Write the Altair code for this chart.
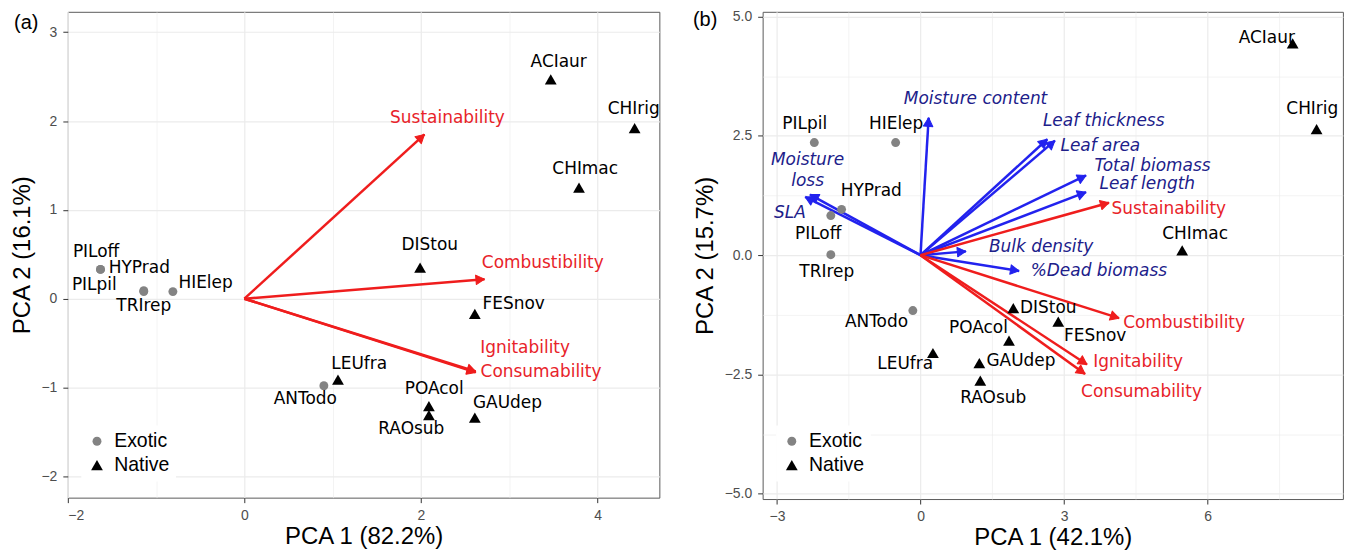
import math
import altair as alt
import pandas as pd

# ---------------- Panel (a) data ----------------
a_species = ["ACIaur", "CHIrig", "CHImac", "DIStou", "FESnov", "LEUfra", "ANTodo", "POAcol",
             "RAOsub", "GAUdep", "PILoff", "HYPrad", "PILpil", "TRIrep", "HIElep"]
a_status = ["Native", "Native", "Native", "Native", "Native", "Native", "Exotic", "Native",
            "Native", "Native", "Exotic", "Exotic", "Exotic", "Exotic", "Exotic"]
a_x = [3.47, 4.42, 3.79, 1.99, 2.61, 1.06, 0.90, 2.09, 2.09, 2.61, -1.63, -1.63, -1.14, -1.14, -0.81]
a_y = [2.47, 1.92, 1.25, 0.35, -0.17, -0.91, -0.98, -1.21, -1.31, -1.34, 0.33, 0.33, 0.09, 0.08, 0.08]
a_lab_x = [3.56, 4.41, 3.86, 2.10, 3.05, 1.30, 0.69, 2.15, 1.89, 2.98, -1.68, -1.19, -1.70, -1.14, -0.44]
a_lab_y = [2.66, 2.13, 1.46, 0.60, -0.06, -0.73, -1.13, -1.02, -1.47, -1.18, 0.53, 0.35, 0.15, -0.08, 0.18]

a_vars = ["Sustainability", "Combustibility", "Ignitability", "Consumability"]
a_vgroup = ["Flammability"] * 4
a_vx = [2.04, 2.72, 2.62, 2.62]
a_vy = [1.85, 0.22, -0.82, -0.83]
a_red_text = ["Sustainability", "Combustibility", "Ignitability", "Consumability"]
a_red_x = [2.30, 3.38, 3.18, 3.36]
a_red_y = [2.03, 0.40, -0.55, -0.82]
a_blue_text = []
a_blue_x = []
a_blue_y = []

# ---------------- Panel (b) data ----------------
b_species = ["PILpil", "HIElep", "HYPrad", "PILoff", "TRIrep", "ANTodo", "LEUfra", "DIStou",
             "POAcol", "GAUdep", "RAOsub", "FESnov", "CHImac", "ACIaur", "CHIrig"]
b_status = ["Exotic", "Exotic", "Exotic", "Exotic", "Exotic", "Exotic", "Native", "Native",
            "Native", "Native", "Native", "Native", "Native", "Native", "Native"]
b_x = [-2.22, -0.52, -1.65, -1.875, -1.875, -0.16, 0.26, 1.94, 1.85, 1.23, 1.25, 2.88, 5.47, 7.78, 8.28]
b_y = [2.36, 2.36, 0.96, 0.83, 0.01, -1.16, -2.05, -1.11, -1.79, -2.26, -2.63, -1.39, 0.10, 4.44, 2.64]
b_lab_x = [-2.42, -0.51, -1.03, -2.14, -1.96, -0.92, -0.32, 2.67, 1.21, 2.10, 1.52, 3.65, 5.74, 7.24, 8.19]
b_lab_y = [2.74, 2.74, 1.35, 0.45, -0.35, -1.40, -2.29, -1.11, -1.53, -2.21, -3.00, -1.70, 0.45, 4.56, 3.07]

b_vars = ["Moisture content", "Leaf thickness", "Leaf area", "Total biomass", "Leaf length",
          "Moisture loss", "SLA", "Bulk density", "%Dead biomass",
          "Sustainability", "Combustibility", "Ignitability", "Consumability"]
b_vgroup = ["Trait"] * 9 + ["Flammability"] * 4
b_vx = [0.17, 2.65, 2.81, 3.46, 3.46, -2.31, -2.41, 0.95, 2.06, 3.94, 4.15, 3.48, 3.44]
b_vy = [2.88, 2.43, 2.40, 1.67, 1.32, 1.27, 1.22, 0.08, -0.33, 1.10, -1.32, -2.29, -2.49]
b_blue_text = ["Moisture content", "Leaf thickness", "Leaf area", "Total biomass", "Leaf length",
               "Moisture", "loss", "SLA", "Bulk density", "%Dead biomass"]
b_blue_x = [1.15, 3.83, 3.76, 4.85, 4.74, -2.36, -2.36, -2.73, 2.52, 3.73]
b_blue_y = [3.28, 2.81, 2.29, 1.875, 1.49, 2.00, 1.56, 0.89, 0.17, -0.33]
b_red_text = ["Sustainability", "Combustibility", "Ignitability", "Consumability"]
b_red_x = [5.19, 5.51, 4.55, 4.62]
b_red_y = [0.97, -1.42, -2.24, -2.86]

# ---------------- styling ----------------
RED_LINE = "#ef1d1d"
RED_TEXT = "#e8232a"
BLUE_LINE = "#2222ee"
BLUE_TEXT = "#20208a"
GREY = "#838383"
LABEL_FONT = "DejaVu Sans"
AXIS_FONT = "Liberation Sans"
HEAD = "M0,0L-0.55,1L0.55,1Z"
LFS = 17


def cond(test, a, b):
    return {"condition": {"test": test, "value": a}, "value": b}


def panel(sp, st, px, py, lx, ly, vars_, vgroup, vx, vy,
          red_t, red_x, red_y, blue_t, blue_x, blue_y,
          xdom, ydom, W, H, xvals, yvals, xstep, ystep, xtitle, ytitle,
          yext, ytp, yfmt, tag, tagx, tagy):
    sx = alt.Scale(domain=xdom, nice=False, zero=False)
    sy = alt.Scale(domain=ydom, nice=False, zero=False)
    xminor = f"abs(datum.value % {xstep}) > 0.001"
    yminor = f"abs(datum.value % {ystep}) > 0.001"
    ax = alt.Axis(values=xvals, format="d",
                  labelExpr=f"{xminor} ? '' : datum.label",
                  tickOpacity=cond(xminor, 0, 1),
                  gridWidth=cond(xminor, 0.6, 1.2),
                  labelPadding=6, titlePadding=2)
    ay = alt.Axis(values=yvals, format=yfmt,
                  labelExpr=f"{yminor} ? '' : datum.label",
                  tickOpacity=cond(yminor, 0, 1),
                  gridWidth=cond(yminor, 0.6, 1.2),
                  labelPadding=6, titlePadding=ytp,
                  minExtent=yext, maxExtent=yext)

    def X(f):
        return alt.X(f, type="quantitative", scale=sx, axis=ax, title=xtitle)

    def Y(f):
        return alt.Y(f, type="quantitative", scale=sy, axis=ay, title=ytitle)

    kx = W / (xdom[1] - xdom[0])
    ky = H / (ydom[1] - ydom[0])
    arr = pd.DataFrame({"var": vars_, "group": vgroup, "vx": vx, "vy": vy})
    arr["ox"] = 0.0
    arr["oy"] = 0.0
    arr["ang"] = [(math.degrees(math.atan2(a * kx, b * ky)) + 360.0) % 360.0 for a, b in zip(vx, vy)]

    stroke_scale = alt.Scale(domain=["Flammability", "Trait"], range=[RED_LINE, BLUE_LINE])

    lines = alt.Chart(arr).mark_rule(strokeWidth=2.5).encode(
        x=X("ox"), y=Y("oy"), x2=alt.X2("vx"), y2=alt.Y2("vy"),
        stroke=alt.Stroke("group:N", scale=stroke_scale, legend=None),
    )
    heads = alt.Chart(arr).mark_point(shape=HEAD, filled=True, size=300, strokeWidth=1,
                                      opacity=1, strokeJoin="round").encode(
        x=X("vx"), y=Y("vy"),
        fill=alt.Fill("group:N", scale=stroke_scale, legend=None),
        stroke=alt.Stroke("group:N", scale=stroke_scale, legend=None),
        angle=alt.Angle("ang:Q", scale=None),
    )

    layers = [lines, heads]

    red_df = pd.DataFrame({"t": red_t, "x": red_x, "y": red_y})
    layers.append(alt.Chart(red_df).mark_text(font=LABEL_FONT, fontSize=LFS, color=RED_TEXT).encode(
        x=X("x"), y=Y("y"), text="t:N"))
    if blue_t:
        blue_df = pd.DataFrame({"t": blue_t, "x": blue_x, "y": blue_y})
        layers.append(alt.Chart(blue_df).mark_text(font=LABEL_FONT, fontSize=LFS, fontStyle="italic",
                                                   color=BLUE_TEXT).encode(
            x=X("x"), y=Y("y"), text="t:N"))

    pts_df = pd.DataFrame({"sp": sp, "status": st, "x": px, "y": py})
    leg = alt.Legend(title=None, orient="none", legendX=13.5, legendY=415, fillColor="white",
                     padding=6, labelFont=AXIS_FONT, labelFontSize=19.5, labelColor="#000000",
                     symbolSize=100, rowPadding=3, labelOffset=7.5, symbolStrokeWidth=0)
    dom = ["Exotic", "Native"]
    layers.append(alt.Chart(pts_df).mark_point(filled=True, opacity=1).encode(
        x=X("x"), y=Y("y"),
        color=alt.Color("status:N", scale=alt.Scale(domain=dom, range=[GREY, "#000000"]), legend=leg),
        shape=alt.Shape("status:N", scale=alt.Scale(domain=dom, range=["circle", "triangle-up"]), legend=leg),
        size=alt.Size("status:N", scale=alt.Scale(domain=dom, range=[80, 140]), legend=None),
    ))

    lab_df = pd.DataFrame({"t": sp, "x": lx, "y": ly})
    layers.append(alt.Chart(lab_df).mark_text(font=LABEL_FONT, fontSize=LFS, color="#000000").encode(
        x=X("x"), y=Y("y"), text="t:N"))

    tag_df = pd.DataFrame({"t": [tag]})
    layers.append(alt.Chart(tag_df).mark_text(font=AXIS_FONT, fontSize=20, color="#000000").encode(
        x=alt.value(tagx), y=alt.value(tagy), text="t:N"))

    return alt.layer(*layers).properties(width=W, height=H)


pa = panel(a_species, a_status, a_x, a_y, a_lab_x, a_lab_y, a_vars, a_vgroup, a_vx, a_vy,
           a_red_text, a_red_x, a_red_y, a_blue_text, a_blue_x, a_blue_y,
           [-2.0, 4.70], [-2.24, 3.23], 593.3, 487.3,
           [-2, -1, 0, 1, 2, 3, 4], [-2, -1.5, -1, -0.5, 0, 0.5, 1, 1.5, 2, 2.5, 3], 2, 1,
           "PCA 1 (82.2%)", "PCA 2 (16.1%)", 30, 3, "d", "(a)", -41.7, 11)

pb = panel(b_species, b_status, b_x, b_y, b_lab_x, b_lab_y, b_vars, b_vgroup, b_vx, b_vy,
           b_red_text, b_red_x, b_red_y, b_blue_text, b_blue_x, b_blue_y,
           [-3.30, 8.83], [-5.11, 5.10], 582, 488.7,
           [-3, -1.5, 0, 1.5, 3, 4.5, 6, 7.5], [-5, -3.75, -2.5, -1.25, 0, 1.25, 2.5, 3.75, 5], 3, 2.5,
           "PCA 1 (42.1%)", "PCA 2 (15.7%)", 42, 3, ".1f", "(b)", -57.7, 8)

chart = alt.hconcat(pa, pb, spacing=102.9, bounds="flush").resolve_scale(
    x="independent", y="independent", color="independent", shape="independent",
    size="independent", stroke="independent", fill="independent"
).resolve_legend(color="independent", shape="independent").properties(
    padding={"left": 2, "top": 0, "right": 0, "bottom": 0}
).configure_view(
    stroke="#5a5a5a", strokeWidth=1
).configure_axis(
    domain=False, grid=True, gridColor="#ebebeb", tickColor="#333333", tickSize=5,
    labelFont=AXIS_FONT, labelFontSize=14, labelColor="#4d4d4d",
    titleFont=AXIS_FONT, titleFontSize=24, titleFontWeight="normal", titleColor="#000000"
)

chart.save("out.html", embed_options={"renderer": "svg", "actions": False})
